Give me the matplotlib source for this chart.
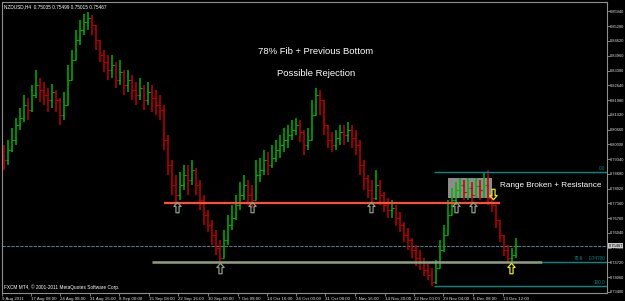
import matplotlib
matplotlib.use('Agg')
import matplotlib.pyplot as plt
from matplotlib.path import Path
from matplotlib.patches import Rectangle
import numpy as np

plt.rcParams['font.family'] = ['Liberation Sans', 'DejaVu Sans']

# NZDUSD H4 bars (condensed), prices
first_open = 0.7950
close = [0.7930, 0.7975, 0.8019, 0.8087, 0.8118, 0.8176, 0.8154, 0.8221, 0.8265, 0.8243,
         0.8221, 0.8198, 0.8234, 0.8198, 0.8131, 0.8176, 0.8288, 0.8377, 0.8466, 0.8511,
         0.8547, 0.8565, 0.8533, 0.8466, 0.8399, 0.8368, 0.8332, 0.8355, 0.8288, 0.8323,
         0.8265, 0.8288, 0.8243, 0.8221, 0.8252, 0.8198, 0.8234, 0.8207, 0.8176, 0.8154,
         0.8019, 0.7908, 0.7818, 0.7774, 0.7818, 0.7863, 0.7841, 0.7885, 0.7818, 0.7751,
         0.7684, 0.7639, 0.7595, 0.7537, 0.7492, 0.7572, 0.7639, 0.7671, 0.7729, 0.7774,
         0.7818, 0.7774, 0.7751, 0.7863, 0.7885, 0.7930, 0.7908, 0.7939, 0.7975, 0.7997,
         0.8019, 0.8042, 0.8064, 0.8087, 0.8055, 0.7997, 0.8019, 0.8131, 0.8221, 0.8198,
         0.8087, 0.8019, 0.7997, 0.8028, 0.8055, 0.8042, 0.8064, 0.8028, 0.7997, 0.7908,
         0.7850, 0.7796, 0.7760, 0.7818, 0.7774, 0.7729, 0.7707, 0.7715, 0.7671, 0.7639,
         0.7595, 0.7572, 0.7528, 0.7492, 0.7474, 0.7438, 0.7416, 0.7385, 0.7447, 0.7528,
         0.7595, 0.7684, 0.7751, 0.7796, 0.7818, 0.7787, 0.7805, 0.7774, 0.7814, 0.7796,
         0.7818, 0.7760, 0.7729, 0.7662, 0.7595, 0.7528, 0.7492, 0.7505, 0.7547]
high = [0.7997, 0.8019, 0.8073, 0.8118, 0.8162, 0.8221, 0.8207, 0.8265, 0.8332, 0.8297,
        0.8279, 0.8252, 0.8270, 0.8243, 0.8207, 0.8234, 0.8355, 0.8422, 0.8511, 0.8556,
        0.8583, 0.8592, 0.8578, 0.8533, 0.8466, 0.8422, 0.8399, 0.8399, 0.8368, 0.8377,
        0.8332, 0.8332, 0.8310, 0.8279, 0.8297, 0.8265, 0.8279, 0.8265, 0.8243, 0.8221,
        0.8176, 0.8042, 0.7930, 0.7863, 0.7876, 0.7908, 0.7908, 0.7930, 0.7894, 0.7841,
        0.7774, 0.7707, 0.7662, 0.7617, 0.7572, 0.7617, 0.7684, 0.7729, 0.7774, 0.7832,
        0.7863, 0.7841, 0.7818, 0.7930, 0.7939, 0.7975, 0.7966, 0.7997, 0.8019, 0.8042,
        0.8073, 0.8087, 0.8109, 0.8118, 0.8109, 0.8064, 0.8073, 0.8198, 0.8252, 0.8243,
        0.8198, 0.8087, 0.8055, 0.8064, 0.8087, 0.8087, 0.8100, 0.8087, 0.8064, 0.8019,
        0.7930, 0.7863, 0.7841, 0.7885, 0.7841, 0.7787, 0.7760, 0.7751, 0.7729, 0.7698,
        0.7653, 0.7626, 0.7581, 0.7550, 0.7528, 0.7492, 0.7474, 0.7447, 0.7483, 0.7572,
        0.7639, 0.7751, 0.7805, 0.7832, 0.7850, 0.7841, 0.7850, 0.7832, 0.7850, 0.7841,
        0.7876, 0.7885, 0.7774, 0.7729, 0.7662, 0.7595, 0.7550, 0.7537, 0.7581]
low = [0.7885, 0.7908, 0.7966, 0.7997, 0.8064, 0.8100, 0.8109, 0.8145, 0.8207, 0.8189,
       0.8176, 0.8145, 0.8162, 0.8145, 0.8087, 0.8109, 0.8198, 0.8288, 0.8377, 0.8444,
       0.8489, 0.8511, 0.8489, 0.8422, 0.8368, 0.8323, 0.8288, 0.8297, 0.8252, 0.8265,
       0.8221, 0.8234, 0.8198, 0.8176, 0.8198, 0.8154, 0.8176, 0.8145, 0.8131, 0.8109,
       0.7975, 0.7863, 0.7774, 0.7729, 0.7751, 0.7796, 0.7774, 0.7818, 0.7774, 0.7707,
       0.7639, 0.7608, 0.7550, 0.7505, 0.7470, 0.7492, 0.7550, 0.7617, 0.7662, 0.7707,
       0.7751, 0.7729, 0.7715, 0.7751, 0.7832, 0.7863, 0.7863, 0.7894, 0.7921, 0.7939,
       0.7966, 0.7984, 0.8019, 0.8042, 0.8011, 0.7952, 0.7975, 0.8019, 0.8154, 0.8131,
       0.8042, 0.7984, 0.7966, 0.7975, 0.7997, 0.7997, 0.8011, 0.7984, 0.7952, 0.7863,
       0.7796, 0.7760, 0.7729, 0.7751, 0.7729, 0.7698, 0.7671, 0.7671, 0.7635, 0.7608,
       0.7564, 0.7528, 0.7492, 0.7456, 0.7438, 0.7412, 0.7394, 0.7367, 0.7376, 0.7461,
       0.7519, 0.7595, 0.7684, 0.7729, 0.7760, 0.7751, 0.7751, 0.7729, 0.7760, 0.7751,
       0.7760, 0.7729, 0.7698, 0.7626, 0.7564, 0.7501, 0.7474, 0.7474, 0.7492]

price_ticks = ['0.73400', '0.74060', '0.74720', '0.75380', '0.76040', '0.76700', '0.77360',
               '0.78020', '0.78680', '0.79340', '0.80000', '0.80660', '0.81320', '0.81980',
               '0.82640', '0.83300', '0.83960', '0.84620', '0.85280', '0.85940']
date_labels = ['9 Aug 2011', '17 Aug 08:00', '24 Aug 08:00', '31 Aug 16:00', '8 Sep 00:00',
               '15 Sep 08:00', '22 Sep 16:00', '30 Sep 00:00', '7 Oct 08:00', '14 Oct 16:00',
               '24 Oct 00:00', '31 Oct 08:00', '7 Nov 16:00', '14 Nov 20:00', '22 Nov 00:00',
               '29 Nov 04:00', '6 Dec 08:00', '13 Dec 12:00']
date_pos = [-0.5, 6.75, 14, 21.5, 28.75, 36.25, 43.5, 51, 58.5, 65.75,
            73, 80.25, 87.75, 95.25, 102.5, 109.75, 117.25, 124.75]

last_price = 0.75467
resistance = 0.7738
fib_0, fib_786, fib_100 = 0.7876, 0.7474, 0.7367
range_box = (111, 122, 0.7760, 0.7850)   # bar from, bar to, price low, price high
arrows_up = [(43.25, 0.7720), (62, 0.7720), (91.75, 0.7720), (113, 0.7720),
             (117.25, 0.7720), (54, 0.7447)]
yellow_up = [(126.75, 0.7447)]
yellow_down = [(122.25, 0.7778)]

close = np.array(close)
high = np.array(high)
low = np.array(low)
opens = np.concatenate([[first_open], close[:-1]])
x = np.arange(len(close))
up = close >= opens
cols = np.where(up, '#00b400', '#c00000')

fig = plt.figure(figsize=(6.25, 3.01), dpi=100, facecolor='black')
ax = fig.add_axes([2 / 625, 8 / 301, 605 / 625, 291 / 301])
ax.set_facecolor('black')
ax.set_xlim(-0.5, 150.75)
ax.set_ylim(0.73355, 0.86363)

# range box behind the bars
ax.add_patch(Rectangle((range_box[0], range_box[2]), range_box[1] - range_box[0],
                       range_box[3] - range_box[2], facecolor='#8c8c8c',
                       edgecolor='none', zorder=1))

# horizontal levels
ax.axhline(last_price, color='#5a7585', lw=0.8, ls=(0, (3, 1)), zorder=1)
ax.hlines(resistance, 40, 124, color='#ff5030', lw=1.6, zorder=3)
ax.hlines(fib_786, 37, 134.5, color='#8fa080', lw=1.8, zorder=3)
ax.hlines(fib_786, 134.5, 150.75, color='#008b8b', lw=1, zorder=3)
ax.hlines([fib_0, fib_100], 107.5, 150.75, color='#008b8b', lw=1, zorder=3)

# OHLC bars
ax.vlines(x, np.minimum(low, np.minimum(opens, close)),
          np.maximum(high, np.maximum(opens, close)), colors=cols, lw=1.1, zorder=2)
ax.hlines(opens, x - 0.45, x, colors=cols, lw=0.8, zorder=2)
ax.hlines(close, x, x + 0.45, colors=cols, lw=0.8, zorder=2)

# arrows
arrow_up = Path([(0, 1), (0.7, 0.2), (0.3, 0.2), (0.3, -1), (-0.3, -1), (-0.3, 0.2),
                 (-0.7, 0.2), (0, 1)], closed=True)
arrow_down = Path([(0, -1), (0.7, -0.2), (0.3, -0.2), (0.3, 1), (-0.3, 1), (-0.3, -0.2),
                   (-0.7, -0.2), (0, -1)], closed=True)
for ax_x, ax_y in arrows_up:
    ax.plot(ax_x, ax_y, marker=arrow_up, ms=7.5, mfc='none', mec='#8aa08a', mew=0.9, zorder=5)
for ax_x, ax_y in yellow_up:
    ax.plot(ax_x, ax_y, marker=arrow_up, ms=7.5, mfc='none', mec='#e8e820', mew=0.9, zorder=5)
for ax_x, ax_y in yellow_down:
    ax.plot(ax_x, ax_y, marker=arrow_down, ms=7.5, mfc='none', mec='#e8e820', mew=0.9, zorder=5)

# fib labels
ax.text(150.4, fib_0 + 0.0004, '0.0', color='#008b8b', fontsize=3.4, ha='right', va='bottom')
ax.text(142.5, fib_786 + 0.0004, '78.6', color='#008b8b', fontsize=3.4, ha='left', va='bottom')
ax.text(150.4, fib_786 + 0.0004, '0.74700', color='#008b8b', fontsize=3.4, ha='right', va='bottom')
ax.text(150.4, fib_100 + 0.0004, '100.0', color='#008b8b', fontsize=3.4, ha='right', va='bottom')

# annotations
ax.text(78, 0.8417, '78% Fib + Previous Bottom', color='white', fontsize=6.8,
        ha='center', va='center')
ax.text(78, 0.8315, 'Possible Rejection', color='white', fontsize=6.8,
        ha='center', va='center')
ax.text(124, 0.7818, 'Range Broken + Resistance', color='white', fontsize=5.9,
        ha='left', va='center')

ax.text(0.004, 0.992, 'NZDUSD,H4  0.75035 0.75499 0.75015 0.75467', transform=ax.transAxes,
        color='white', fontsize=3.4, ha='left', va='top')
ax.text(0.004, 0.012, 'FXCM MT4, \u00a9 2001-2011 MetaQuotes Software Corp.',
        transform=ax.transAxes, color='white', fontsize=3.4, ha='left', va='bottom')

# axes styling
for s in ax.spines.values():
    s.set_color('#909090')
    s.set_linewidth(0.8)
ax.yaxis.tick_right()
ax.set_yticks([float(v) for v in price_ticks])
ax.set_yticklabels(price_ticks)
ax.set_xticks(date_pos)
ax.set_xticklabels(date_labels, ha='left')
ax.tick_params(axis='both', colors='#909090', labelcolor='#e0e0e0', labelsize=3.2,
               length=2.5, width=0.6, pad=1)
ax.tick_params(axis='y', labelsize=2.9, length=1.8, pad=0.5)
ax.tick_params(axis='x', pad=0.5)

ax.annotate('0.75467', xy=(1.0, last_price), xycoords=('axes fraction', 'data'),
            xytext=(1.0, 0), textcoords='offset points', fontsize=2.9, color='black',
            va='center', ha='left', zorder=10, annotation_clip=False,
            bbox=dict(boxstyle='square,pad=0.15', facecolor='#c8c8c8', edgecolor='none'))

fig.savefig('out.png', dpi=100, facecolor='black')
